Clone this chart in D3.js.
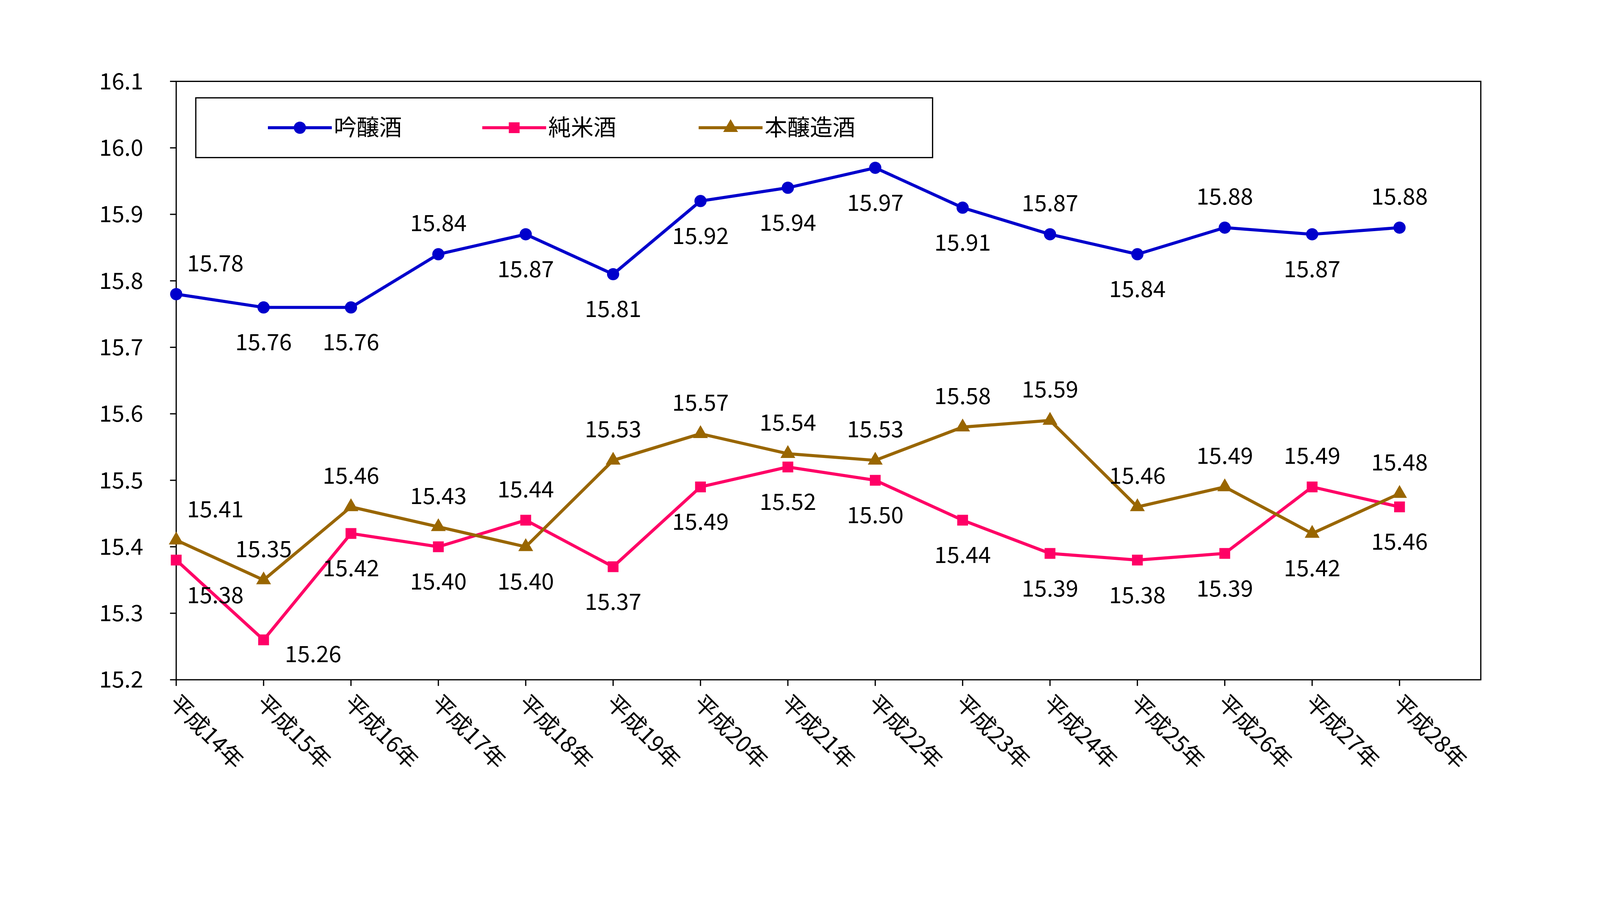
<!DOCTYPE html>
<html><head><meta charset="utf-8">
<script src="https://d3js.org/d3.v7.min.js"></script>
<style>body{margin:0;background:#fff}</style></head>
<body><svg id="c" width="4538" height="2359"></svg>
<script>
const categories=["平成14年","平成15年","平成16年","平成17年","平成18年","平成19年","平成20年","平成21年","平成22年","平成23年","平成24年","平成25年","平成26年","平成27年","平成28年"];
const ginjo=[15.78,15.76,15.76,15.84,15.87,15.81,15.92,15.94,15.97,15.91,15.87,15.84,15.88,15.87,15.88];
const junmai=[15.38,15.26,15.42,15.40,15.44,15.37,15.49,15.52,15.50,15.44,15.39,15.38,15.39,15.49,15.46];
const honjozo=[15.41,15.35,15.46,15.43,15.40,15.53,15.57,15.54,15.53,15.58,15.59,15.46,15.49,15.42,15.48];
const ginjoLab=["a","b","b","a","b","b","b","b","b","b","a","b","a","b","a"];
const junmaiLab=["b","b","b","b","a","b","b","b","b","b","b","b","b","a","b"];
const honjozoLab=["a","a","a","a","b","a","a","a","a","a","a","a","a","b","a"];
const yTicks=[15.2,15.3,15.4,15.5,15.6,15.7,15.8,15.9,16.0,16.1];
const S=2.638;
const svg=d3.select("#c");
const g=svg.append("g").attr("transform",`scale(${S})`);
const L=171,R=1437,T=79,B=660;
const x=d3.scaleLinear().domain([0,14.93]).range([L,R]);
const y=d3.scaleLinear().domain([15.2,16.1]).range([B,T]);
const font="'Noto Sans CJK JP','Noto Sans',sans-serif";
g.append("rect").attr("x",L).attr("y",T).attr("width",R-L).attr("height",B-T).attr("fill","none").attr("stroke","#000").attr("stroke-width",1.2);
yTicks.forEach(v=>{
  g.append("line").attr("x1",L-6).attr("x2",L).attr("y1",y(v)).attr("y2",y(v)).attr("stroke","#000").attr("stroke-width",1.2);
  g.append("text").attr("x",L-32).attr("y",y(v)).attr("dy","0.35em").attr("text-anchor","end").attr("font-size",22).attr("font-family",font).text(v.toFixed(1));
});
categories.forEach((c,i)=>{
  g.append("line").attr("x1",x(i)).attr("x2",x(i)).attr("y1",B).attr("y2",B+6).attr("stroke","#000").attr("stroke-width",1.2);
  g.append("text").attr("transform",`translate(${x(i)-8},${B+24}) rotate(45)`).attr("font-size",22).attr("font-family",font).text(c);
});
const series=[
 {name:"吟醸酒",data:ginjo,lab:ginjoLab,color:"#0000CC",shape:d3.symbolCircle},
 {name:"純米酒",data:junmai,lab:junmaiLab,color:"#FF0066",shape:d3.symbolSquare},
 {name:"本醸造酒",data:honjozo,lab:honjozoLab,color:"#996600",shape:d3.symbolTriangle}];
const line=d3.line().x((d,i)=>x(i)).y(d=>y(d));
series.forEach(s=>{
  g.append("path").attr("d",line(s.data)).attr("fill","none").attr("stroke",s.color).attr("stroke-width",3);
  s.data.forEach((d,i)=>{
    g.append("path").attr("d",d3.symbol(s.shape,s.shape===d3.symbolTriangle?90:110)()).attr("transform",`translate(${x(i)},${y(d)})`).attr("fill",s.color);
    let dx=0; if(i===0)dx=38; if(s.name==="純米酒"&&i===1)dx=48;
    let dy=s.lab[i]==="a"?-30:34;
    if(s.name==="純米酒"&&i===1)dy=14;
    g.append("text").attr("x",x(i)+dx).attr("y",y(d)+dy).attr("dy","0.35em").attr("text-anchor","middle").attr("font-size",22).attr("font-family",font).text(d.toFixed(2));
  });
});
g.append("rect").attr("x",190).attr("y",95).attr("width",715).attr("height",58).attr("fill","#fff").attr("stroke","#000").attr("stroke-width",1.2);
const lx=[260,468,678];
series.forEach((s,k)=>{
  g.append("line").attr("x1",lx[k]).attr("x2",lx[k]+62).attr("y1",124).attr("y2",124).attr("stroke",s.color).attr("stroke-width",3);
  g.append("path").attr("d",d3.symbol(s.shape,s.shape===d3.symbolTriangle?90:110)()).attr("transform",`translate(${lx[k]+31},124)`).attr("fill",s.color);
  g.append("text").attr("x",lx[k]+64).attr("y",124).attr("dy","0.35em").attr("font-size",22).attr("font-family",font).text(s.name);
});
</script></body></html>
